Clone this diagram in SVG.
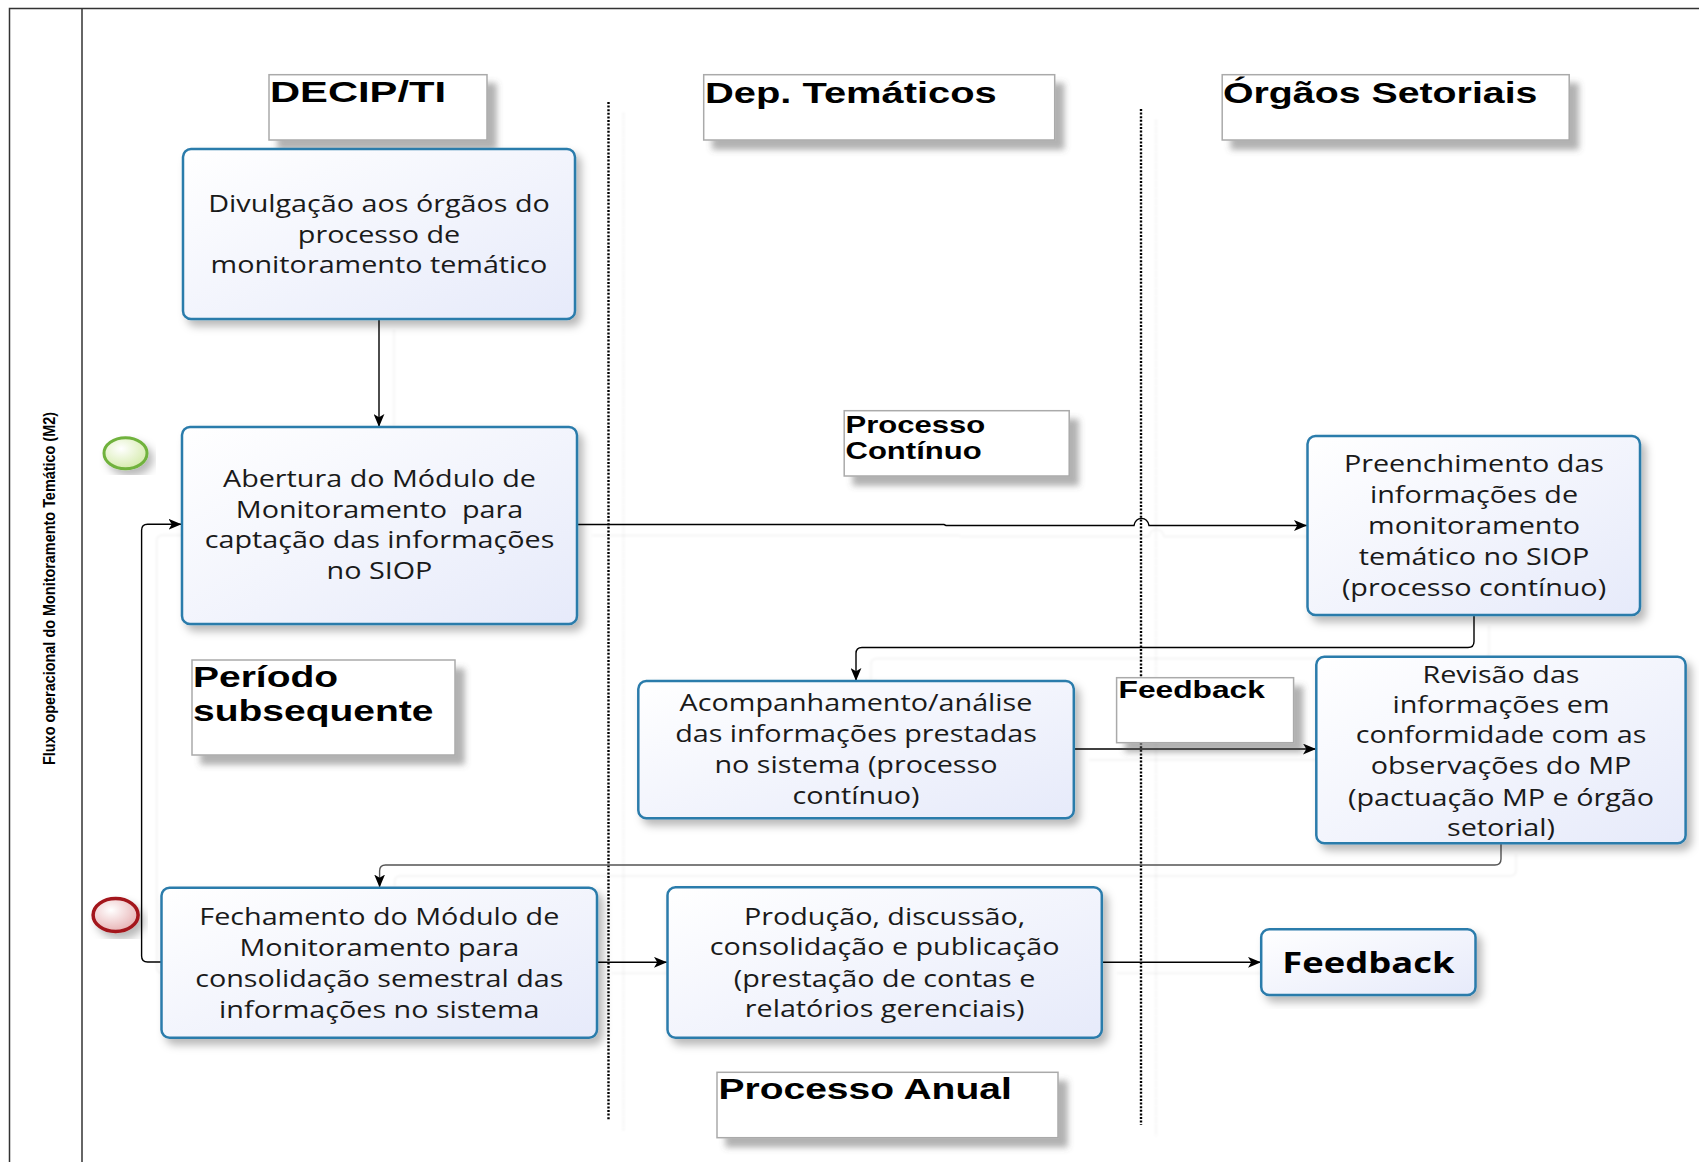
<svg xmlns="http://www.w3.org/2000/svg" width="1699" height="1162" viewBox="0 0 1699 1162">
<defs>
<style>
.frame{stroke:#333;stroke-width:1.5;fill:none}
.lane{stroke:#000;stroke-width:2.4;stroke-dasharray:2 1.6;fill:none}
.box{fill:url(#gBox);stroke:#2b7bab;stroke-width:2.5;filter:url(#sh)}
.lbl{fill:#fff;stroke:#aaa;stroke-width:1.5;filter:url(#sh2)}
.hdr{font-family:"Liberation Sans",Arial,sans-serif;font-weight:bold;font-size:30px;fill:#000}
.sm{font-family:"Liberation Sans",Arial,sans-serif;font-weight:bold;font-size:23px;fill:#000}
.t{font-family:"Open Sans","Noto Sans",sans-serif;font-size:23px;fill:#1a1a1a;text-anchor:middle}
.tb{font-family:"Open Sans","Noto Sans",sans-serif;font-size:28px;font-weight:bold;fill:#000;text-anchor:middle}
.c{stroke:#000;stroke-width:1.4;fill:none;marker-end:url(#arr)}
.cg{stroke:#555;stroke-width:1.4;fill:none;marker-end:url(#arr)}
</style>
<linearGradient id="gBox" x1="0" y1="0" x2="1" y2="1">
<stop offset="0" stop-color="#ffffff"/>
<stop offset="1" stop-color="#e6eafa"/>
</linearGradient>
<radialGradient id="gGreen" cx="0.4" cy="0.35" r="0.7">
<stop offset="0" stop-color="#ffffff"/>
<stop offset="1" stop-color="#d3eaa8"/>
</radialGradient>
<radialGradient id="gRed" cx="0.4" cy="0.35" r="0.7">
<stop offset="0" stop-color="#ffffff"/>
<stop offset="1" stop-color="#e6aeb0"/>
</radialGradient>
<filter id="sh" x="-10%" y="-10%" width="130%" height="130%">
<feDropShadow dx="5" dy="6" stdDeviation="4" flood-color="#000" flood-opacity="0.28"/>
</filter>
<filter id="sh2" x="-10%" y="-10%" width="130%" height="140%">
<feDropShadow dx="9" dy="9" stdDeviation="3" flood-color="#555" flood-opacity="0.45"/>
</filter>
<filter id="shc" x="-5%" y="-5%" width="110%" height="110%">
<feDropShadow dx="15" dy="11" stdDeviation="1" flood-color="#000" flood-opacity="0.05"/>
</filter>
<marker id="arr" viewBox="0 0 12 10" refX="12" refY="5" markerWidth="13" markerHeight="11" markerUnits="userSpaceOnUse" orient="auto">
<path d="M0,0 L12,5 L0,10 L3,5 Z" fill="#000"/>
</marker>
</defs>
<rect x="0" y="0" width="1699" height="1162" fill="#fff"/>

<g id="frame">
<path class="frame" d="M9.5,1162 V8.5 H1699"/>
<path class="frame" d="M82,8.5 V1162"/>
<text class="hdr" style="font-size:16px" transform="translate(55,588.5) rotate(-90)" text-anchor="middle" textLength="353" lengthAdjust="spacingAndGlyphs">Fluxo operacional do Monitoramento Temático (M2)</text>
</g>

<g id="lanes" filter="url(#shc)">
<path class="lane" d="M608.5,102 V1120"/>
<path class="lane" d="M1141,109 V1125"/>
</g>

<g id="connectors" filter="url(#shc)">
<path class="c" d="M379,319 V427"/>
<path class="c" d="M577,524.5 H944 L946,525.5 H1134 C1136,516 1147,516 1149,525.5 H1307"/>
<path class="c" d="M1474,615 V641.5 Q1474,647.5 1468,647.5 H862 Q856,647.5 856,653.5 V681"/>
<path class="c" d="M1074,749 H1316"/>
<path class="cg" d="M1501,843.5 V859 Q1501,865 1495,865 H385.6 Q379.6,865 379.6,871 V887.5"/>
<path class="c" d="M161.5,962 H147.6 Q141.6,962 141.6,956 V530.3 Q141.6,524.3 147.6,524.3 H181.5"/>
<path class="c" d="M597,962.3 H667"/>
<path class="c" d="M1102,962.3 H1261"/>
</g>

<g id="lbl-decip">
<rect class="lbl" x="269" y="74.7" width="218" height="65.3"/>
<text class="hdr" transform="translate(270,0) scale(1.39,1)" x="0" y="101.7">DECIP/TI</text>
</g>
<g id="lbl-dep">
<rect class="lbl" x="703.7" y="74.7" width="351" height="65.3"/>
<text class="hdr" transform="translate(705,0) scale(1.33,1)" x="0" y="102.7">Dep. Temáticos</text>
</g>
<g id="lbl-orgaos">
<rect class="lbl" x="1222.2" y="74.7" width="347" height="65.3"/>
<text class="hdr" transform="translate(1223,0) scale(1.31,1)" x="0" y="102.7">Órgãos Setoriais</text>
</g>
<g id="lbl-continuo">
<rect class="lbl" x="844.2" y="410.7" width="225" height="65.3"/>
<text class="sm" transform="translate(845.5,0) scale(1.35,1)" x="0" y="432.7">Processo</text>
<text class="sm" transform="translate(845.5,0) scale(1.35,1)" x="0" y="459.3">Contínuo</text>
</g>
<g id="lbl-periodo">
<rect class="lbl" x="192" y="660" width="263" height="95"/>
<text class="hdr" transform="translate(193,0) scale(1.3,1)" x="0" y="686.7">Período</text>
<text class="hdr" transform="translate(193,0) scale(1.3,1)" x="0" y="721">subsequente</text>
</g>
<g id="lbl-feedback">
<rect class="lbl" x="1116.6" y="677.7" width="177" height="65"/>
<text class="sm" transform="translate(1118.5,0) scale(1.38,1)" x="0" y="698">Feedback</text>
</g>
<g id="lbl-anual">
<rect class="lbl" x="717" y="1072.3" width="341" height="65.4"/>
<text class="hdr" transform="translate(718.5,0) scale(1.3,1)" x="0" y="1099.3">Processo Anual</text>
</g>

<g id="start">
<ellipse cx="125.5" cy="453.3" rx="21.5" ry="15.5" fill="url(#gGreen)" stroke="#6fb23c" stroke-width="3" filter="url(#sh)"/>
</g>
<g id="end">
<ellipse cx="115.6" cy="915" rx="22.5" ry="16.5" fill="url(#gRed)" stroke="#a3151a" stroke-width="3.5" filter="url(#sh)"/>
</g>

<g id="n-divulgacao">
<rect class="box" x="183" y="149" width="392" height="170" rx="8"/>
<g transform="translate(379,0) scale(1.25,1)">
<text class="t" x="0" y="211.7">Divulgação aos órgãos do</text>
<text class="t" x="0" y="242.7">processo de</text>
<text class="t" x="0" y="273.3">monitoramento temático</text>
</g>
</g>

<g id="n-abertura">
<rect class="box" x="182" y="427" width="395" height="197" rx="8"/>
<g transform="translate(379.5,0) scale(1.25,1)">
<text class="t" x="0" y="486.7">Abertura do Módulo de</text>
<text class="t" x="0" y="517.7">Monitoramento&#160; para</text>
<text class="t" x="0" y="548.3">captação das informações</text>
<text class="t" x="0" y="579.3">no SIOP</text>
</g>
</g>

<g id="n-preenchimento">
<rect class="box" x="1307.5" y="436" width="332.5" height="179" rx="8"/>
<g transform="translate(1474,0) scale(1.25,1)">
<text class="t" x="0" y="471.7">Preenchimento das</text>
<text class="t" x="0" y="502.7">informações de</text>
<text class="t" x="0" y="534.3">monitoramento</text>
<text class="t" x="0" y="565">temático no SIOP</text>
<text class="t" x="0" y="596">(processo contínuo)</text>
</g>
</g>

<g id="n-acompanhamento">
<rect class="box" x="638.3" y="681" width="435.5" height="137.3" rx="8"/>
<g transform="translate(856,0) scale(1.25,1)">
<text class="t" x="0" y="710.7">Acompanhamento/análise</text>
<text class="t" x="0" y="741.7">das informações prestadas</text>
<text class="t" x="0" y="772.7">no sistema (processo</text>
<text class="t" x="0" y="803.7">contínuo)</text>
</g>
</g>

<g id="n-revisao">
<rect class="box" x="1316.3" y="656.7" width="369.3" height="186.6" rx="8"/>
<g transform="translate(1501,0) scale(1.25,1)">
<text class="t" x="0" y="682.7">Revisão das</text>
<text class="t" x="0" y="713.3">informações em</text>
<text class="t" x="0" y="743.3">conformidade com as</text>
<text class="t" x="0" y="774.3">observações do MP</text>
<text class="t" x="0" y="805.7">(pactuação MP e órgão</text>
<text class="t" x="0" y="836">setorial)</text>
</g>
</g>

<g id="n-fechamento">
<rect class="box" x="161.5" y="887.7" width="435.5" height="150" rx="8"/>
<g transform="translate(379.3,0) scale(1.25,1)">
<text class="t" x="0" y="925">Fechamento do Módulo de</text>
<text class="t" x="0" y="956">Monitoramento para</text>
<text class="t" x="0" y="986.7">consolidação semestral das</text>
<text class="t" x="0" y="1017.7">informações no sistema</text>
</g>
</g>

<g id="n-producao">
<rect class="box" x="667.5" y="887.3" width="434.3" height="150.4" rx="8"/>
<g transform="translate(884.6,0) scale(1.25,1)">
<text class="t" x="0" y="925">Produção, discussão,</text>
<text class="t" x="0" y="955">consolidação e publicação</text>
<text class="t" x="0" y="986.7">(prestação de contas e</text>
<text class="t" x="0" y="1017.3">relatórios gerenciais)</text>
</g>
</g>

<g id="n-feedback">
<rect class="box" x="1261.2" y="929.3" width="214.3" height="65.7" rx="8"/>
<g transform="translate(1368.4,0) scale(1.3,1)">
<text class="tb" x="0" y="972.7">Feedback</text>
</g>
</g>
</svg>
